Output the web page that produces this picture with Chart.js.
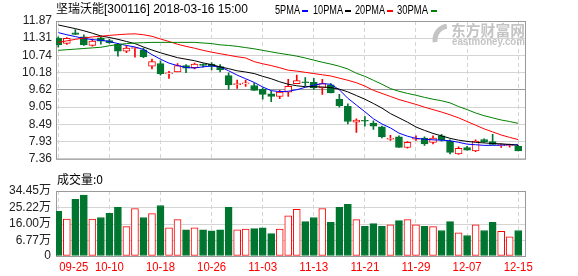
<!DOCTYPE html>
<html>
<head>
<meta charset="utf-8">
<script src="https://cdn.jsdelivr.net/npm/chart.js@4.4.1/dist/chart.umd.min.js"></script>
<style>
  html, body { margin: 0; padding: 0; background: #fff; width: 578px; height: 276px; overflow: hidden; }
  #kline { position: absolute; left: 0; top: 0; }
  #vol { position: absolute; left: 0; top: 170px; }
</style>
</head>
<body>
<canvas id="kline" width="578" height="170"></canvas>
<canvas id="vol" width="578" height="106"></canvas>
<script>
// tick labels
const DATES = ['09-25', '10-10', '10-18', '10-26', '11-03', '11-13', '11-21', '11-29', '12-07', '12-15'];
const PRICE_TICKS = [7.36, 7.93, 8.49, 9.05, 9.62, 10.18, 10.74, 11.31, 11.87];
const VOL_TICKS = [-1.7, 6.77, 16.00, 25.22, 34.45];
const VOL_TICK_LABELS = ['0', '6.77万', '16.00万', '25.22万', '34.45万'];

// daily candles, 55 trading days
const OPEN = [11.30, 11.14, 11.48, 11.35, 11.07, 11.32, 11.23, 11.11, 10.88, 10.97,
  10.93, 10.39, 10.48, 10.14, 10.20, 10.41, 10.34, 10.44, 10.46, 10.38,
  10.08, 9.79, 9.81, 9.76, 9.63, 9.49, 9.40, 9.54, 9.82, 9.87,
  9.86, 9.68, 9.78, 9.31, 9.08, 8.56, 8.61, 8.53, 8.41, 8.00,
  8.08, 7.73, 8.00, 8.04, 7.90, 8.11, 7.94, 7.52, 7.73, 7.62,
  7.99, 7.92, 7.79, 7.80, 7.77];
const HIGH = [11.35, 11.33, 11.59, 11.42, 11.28, 11.38, 11.27, 11.14, 11.06, 11.00,
  10.98, 10.62, 10.57, 10.22, 10.48, 10.44, 10.49, 10.47, 10.51, 10.44,
  10.17, 9.94, 9.94, 9.83, 9.68, 9.57, 9.60, 9.96, 10.10, 10.02,
  9.99, 9.96, 9.82, 9.47, 9.16, 8.67, 8.74, 8.60, 8.43, 8.13,
  8.11, 7.92, 8.11, 8.08, 8.11, 8.16, 7.98, 7.75, 7.77, 7.98,
  8.01, 8.16, 7.85, 7.84, 7.80];
const LOW = [11.01, 11.10, 11.42, 11.07, 11.05, 11.11, 11.14, 10.72, 10.83, 10.69,
  10.67, 10.30, 10.10, 9.99, 10.20, 10.18, 10.30, 10.36, 10.27, 10.20,
  9.63, 9.66, 9.73, 9.60, 9.31, 9.23, 9.33, 9.40, 9.82, 9.75,
  9.63, 9.47, 9.52, 9.05, 8.50, 8.22, 8.43, 8.32, 8.04, 7.96,
  7.73, 7.71, 7.96, 7.80, 7.85, 7.94, 7.52, 7.50, 7.64, 7.59,
  7.90, 7.83, 7.73, 7.74, 7.62];
const CLOSE = [11.09, 11.30, 11.43, 11.09, 11.21, 11.21, 11.16, 10.88, 10.98, 10.98,
  10.70, 10.54, 10.15, 10.15, 10.41, 10.33, 10.46, 10.42, 10.38, 10.27,
  9.78, 9.80, 9.83, 9.60, 9.47, 9.40, 9.54, 9.73, 9.92, 9.85,
  9.68, 9.82, 9.52, 9.10, 8.58, 8.63, 8.59, 8.43, 8.08, 8.01,
  7.73, 7.90, 8.01, 7.85, 8.04, 7.98, 7.57, 7.70, 7.64, 7.94,
  7.92, 7.83, 7.80, 7.81, 7.62];

// moving averages
const MA5 = [11.49, 11.42, 11.36, 11.30, 11.26, 11.24, 11.20, 11.13, 11.07, 11.02,
  10.94, 10.77, 10.62, 10.49, 10.41, 10.35, 10.33, 10.37, 10.40, 10.37,
  10.24, 10.10, 9.98, 9.86, 9.71, 9.59, 9.56, 9.57, 9.62, 9.70,
  9.77, 9.82, 9.80, 9.62, 9.34, 9.12, 8.90, 8.67, 8.50, 8.37,
  8.20, 8.10, 8.03, 8.00, 7.98, 7.97, 7.95, 7.90, 7.84, 7.82,
  7.80, 7.80, 7.81, 7.82, 7.82];
const MA10 = [11.74, 11.68, 11.62, 11.55, 11.47, 11.38, 11.33, 11.27, 11.20, 11.13,
  11.02, 10.92, 10.83, 10.75, 10.67, 10.62, 10.57, 10.50, 10.44, 10.37,
  10.31, 10.24, 10.20, 10.15, 10.06, 9.98, 9.88, 9.80, 9.75, 9.72,
  9.72, 9.71, 9.69, 9.64, 9.55, 9.43, 9.31, 9.17, 9.02, 8.84,
  8.70, 8.56, 8.40, 8.29, 8.19, 8.11, 8.03, 7.97, 7.93, 7.90,
  7.88, 7.86, 7.85, 7.83, 7.80];
const MA20 = [11.17, 11.22, 11.27, 11.31, 11.35, 11.37, 11.40, 11.42, 11.44, 11.45,
  11.42, 11.37, 11.28, 11.20, 11.11, 11.04, 10.98, 10.91, 10.85, 10.80,
  10.75, 10.70, 10.66, 10.54, 10.47, 10.41, 10.34, 10.26, 10.23, 10.19,
  10.15, 10.11, 10.07, 10.00, 9.93, 9.85, 9.74, 9.60, 9.50, 9.40,
  9.30, 9.22, 9.14, 9.05, 8.97, 8.89, 8.80, 8.70, 8.58, 8.46,
  8.34, 8.24, 8.14, 8.06, 7.99];
const MA30 = [10.91, 10.93, 10.95, 10.97, 10.99, 11.01, 11.06, 11.10, 11.13, 11.15,
  11.16, 11.17, 11.17, 11.17, 11.17, 11.17, 11.17, 11.15, 11.13, 11.09,
  11.07, 11.04, 11.00, 10.96, 10.91, 10.86, 10.81, 10.77, 10.72, 10.66,
  10.59, 10.52, 10.46, 10.39, 10.30, 10.16, 10.06, 9.93, 9.80, 9.66,
  9.57, 9.50, 9.44, 9.37, 9.31, 9.26, 9.19, 9.07, 8.97, 8.86,
  8.77, 8.70, 8.63, 8.58, 8.52];

// volume, 万股
const VOL = [23.2, 18.9, 29.8, 32.2, 18.9, 19.7, 22.1, 25.3, 14.6, 24.7,
  19.7, 21.9, 26.4, 13.9, 18.5, 12.9, 13.9, 12.9, 12.35, 12.9,
  25.3, 12.9, 13.3, 13.5, 14.0, 10.7, 13.3, 20.6, 24.2, 17.4,
  19.7, 24.7, 17.0, 25.3, 27.1, 18.5, 14.8, 16.3, 14.8, 15.7,
  18.0, 18.5, 15.7, 14.8, 14.6, 12.5, 17.4, 11.2, 9.7, 15.7,
  12.5, 17.0, 12.0, 9.0, 12.5];

const RED = '#ff0000';
const GREEN = '#00752f';
const GRID = '#d4d4d4';
const XMIN = -0.27;
const XMAX = 54.8;
const GRID_IDX = DATES.map((d, k) => k * 6);

Chart.defaults.font.family = "'Liberation Sans', 'Noto Sans CJK SC', sans-serif";
Chart.defaults.font.size = 12;
Chart.defaults.color = '#222';

const isUp = (i) => CLOSE[i] >= OPEN[i];
const pts = (arr) => arr.map((v, i) => ({ x: i, y: v }));

function xScale() {
  return {
    type: 'linear',
    min: XMIN,
    max: XMAX,
    offset: false,
    afterBuildTicks: (s) => { s.ticks = GRID_IDX.map((v) => ({ value: v })); },
    afterFit: (s) => { s.height = 0; },
    ticks: { display: false },
    grid: { color: GRID, drawTicks: false, tickLength: 0, offset: false },
    border: { display: false, dash: [4, 3] }
  };
}

// gray box round the plot area
const frame = {
  id: 'frame',
  beforeDatasetsDraw(chart) {
    const { ctx, chartArea: a } = chart;
    ctx.save();
    ctx.strokeStyle = '#999';
    ctx.lineWidth = 1;
    ctx.strokeRect(a.left + 0.5, a.top + 0.5, a.right - a.left, a.bottom - a.top);
    ctx.restore();
  }
};

const header = {
  id: 'header',
  beforeDatasetsDraw(chart) {
    const { ctx } = chart;
    ctx.save();
    // watermark
    ctx.strokeStyle = '#c4c4c4';
    ctx.lineWidth = 5;
    ctx.beginPath();
    ctx.arc(449, 40, 14, Math.PI * 0.95, Math.PI * 1.45);
    ctx.stroke();
    ctx.fillStyle = '#c4c4c4';
    ctx.font = "bold 15px 'Noto Sans CJK SC'";
    ctx.textBaseline = 'alphabetic';
    ctx.fillText('东方财富网', 451, 36, 74);
    ctx.font = "bold 10px 'Liberation Sans'";
    ctx.fillText('eastmoney.com', 452, 45, 73);
    ctx.restore();
  },
  afterDraw(chart) {
    const { ctx } = chart;
    ctx.save();
    ctx.fillStyle = '#000';
    ctx.textBaseline = 'alphabetic';
    ctx.font = "12px 'Liberation Sans', 'Noto Sans CJK SC'";
    ctx.fillText('坚瑞沃能[300116] 2018-03-16 15:00', 56, 13, 196);
    const legend = [
      ['5PMA', 275, 25, 302, '#0000ff'],
      ['10PMA', 313, 30, 345, '#000000'],
      ['20PMA', 355, 30, 387, RED],
      ['30PMA', 397, 31, 431, '#008000']
    ];
    legend.forEach(([t, x, w, mx, c]) => {
      ctx.fillStyle = '#000';
      ctx.fillText(t, x, 14, w);
      ctx.fillStyle = c;
      ctx.fillRect(mx, 10, 6, 2);
    });
    ctx.restore();
  }
};

function maLine(data, color) {
  return {
    type: 'line',
    data: pts(data),
    borderColor: color,
    borderWidth: 1,
    pointRadius: 0,
    tension: 0,
    order: 0
  };
}

new Chart(document.getElementById('kline'), {
  type: 'bar',
  data: {
    datasets: [
      maLine(MA30, '#008000'),
      maLine(MA20, RED),
      maLine(MA10, '#000000'),
      maLine(MA5, '#0000ff'),
      {
        data: OPEN.map((o, i) => ({ x: i, y: [o, CLOSE[i]] })),
        backgroundColor: OPEN.map((o, i) => (isUp(i) ? '#ffffff' : GREEN)),
        borderColor: OPEN.map((o, i) => (isUp(i) ? RED : GREEN)),
        borderWidth: 1,
        borderSkipped: false,
        barThickness: 7,
        minBarLength: 1,
        grouped: false,
        order: 1
      },
      {
        data: LOW.map((l, i) => ({ x: i, y: [l, HIGH[i]] })),
        backgroundColor: OPEN.map((o, i) => (isUp(i) ? RED : GREEN)),
        borderWidth: 0,
        barThickness: 1,
        grouped: false,
        order: 2
      }
    ]
  },
  options: {
    responsive: false,
    animation: false,
    layout: { padding: { top: 21, right: 53, bottom: 4, left: 0 } },
    plugins: { legend: { display: false }, tooltip: { enabled: false } },
    scales: {
      x: xScale(),
      y: {
        min: 7.36,
        max: 11.87,
        afterBuildTicks: (s) => { s.ticks = PRICE_TICKS.map((v) => ({ value: v })); },
        afterFit: (s) => { s.width = 56; },
        ticks: { padding: 4, color: '#222', autoSkip: false, callback: (v) => Number(v).toFixed(2) },
        grid: {
          color: (c) => (c.tick && c.tick.value === 9.62 ? '#999' : GRID),
          drawTicks: false,
          tickLength: 0
        },
        border: { display: false }
      }
    }
  },
  plugins: [frame, header]
});

const volText = {
  id: 'volText',
  afterDraw(chart) {
    const { ctx } = chart;
    const xs = chart.scales.x;
    ctx.save();
    ctx.fillStyle = '#000';
    ctx.textBaseline = 'alphabetic';
    ctx.font = "12px 'Noto Sans CJK SC', 'Liberation Sans'";
    ctx.fillText('成交量:0', 57, 14, 49);
    ctx.fillStyle = RED;
    ctx.font = "12px 'Liberation Sans'";
    DATES.forEach((d, k) => {
      const px = xs.getPixelForValue(GRID_IDX[k]);
      if (k === 0) {
        ctx.textAlign = 'left';
        ctx.fillText(d, px + 1, 100.5, 29);
      } else {
        ctx.textAlign = 'center';
        ctx.fillText(d, px, 100.5, 29);
      }
    });
    ctx.restore();
  }
};

new Chart(document.getElementById('vol'), {
  type: 'bar',
  data: {
    datasets: [{
      data: pts(VOL),
      base: VOL_TICKS[0],
      backgroundColor: VOL.map((v, i) => (isUp(i) ? '#ffffff' : GREEN)),
      borderColor: VOL.map((v, i) => (isUp(i) ? RED : GREEN)),
      borderWidth: 1,
      borderSkipped: false,
      barThickness: 7,
      grouped: false
    }]
  },
  options: {
    responsive: false,
    animation: false,
    layout: { padding: { top: 21, right: 53, bottom: 20, left: 0 } },
    plugins: { legend: { display: false }, tooltip: { enabled: false } },
    scales: {
      x: xScale(),
      y: {
        min: VOL_TICKS[0],
        max: VOL_TICKS[VOL_TICKS.length - 1],
        afterBuildTicks: (s) => { s.ticks = VOL_TICKS.map((v) => ({ value: v })); },
        afterFit: (s) => { s.width = 56; },
        ticks: {
          padding: 5,
          color: '#222',
          autoSkip: false,
          callback: (v) => VOL_TICK_LABELS[VOL_TICKS.indexOf(v)]
        },
        grid: { color: GRID, drawTicks: false, tickLength: 0 },
        border: { display: false }
      }
    }
  },
  plugins: [frame, volText]
});
</script>
</body>
</html>
